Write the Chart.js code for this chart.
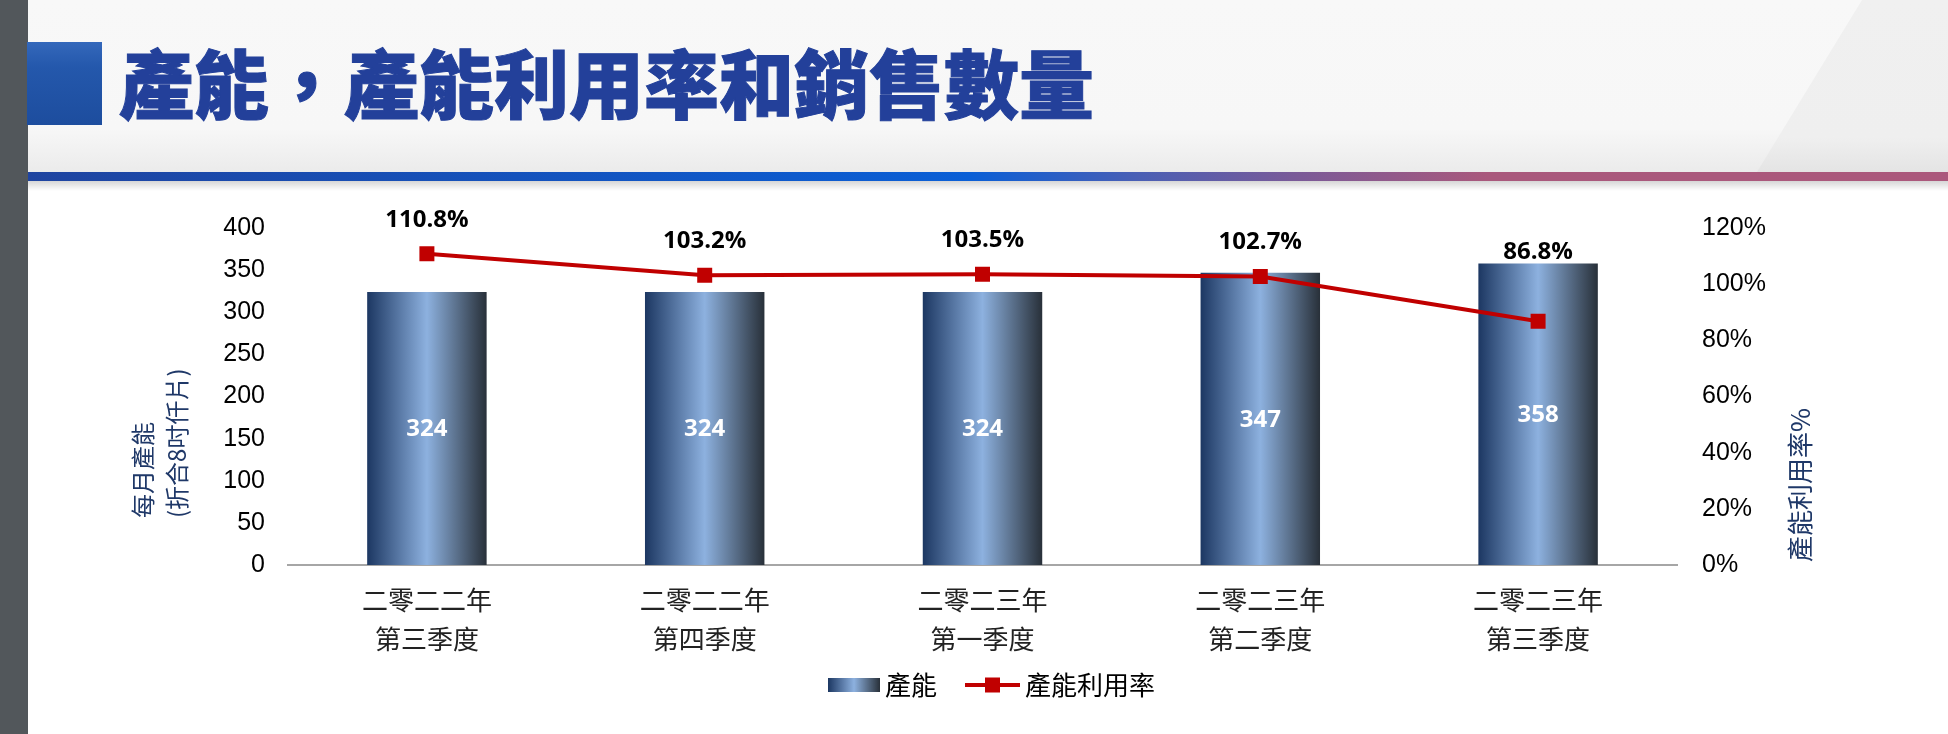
<!DOCTYPE html>
<html>
<head>
<meta charset="utf-8">
<script src="https://cdn.jsdelivr.net/npm/chart.js@4.4.0/dist/chart.umd.min.js"></script>
<style>
  html, body { margin:0; padding:0; }
  body { width:1948px; height:734px; overflow:hidden; background:#ffffff; position:relative; }
  #leftbar { position:absolute; left:0; top:0; width:28px; height:734px; background:#52575b; }
  #header { position:absolute; left:28px; top:0; width:1920px; height:172px;
    background:linear-gradient(to bottom, #f0f0f0 0%, #efefef 80%, #e4e4e4 100%); }
  #headerlight { position:absolute; left:28px; top:0; width:1920px; height:172px;
    background:linear-gradient(to bottom, #f8f8f8 0%, #f7f7f7 75%, #ebebeb 100%);
    clip-path: polygon(0 0, 1834px 0, 1729px 172px, 0 172px); }
  #accent { position:absolute; left:27px; top:42px; width:75px; height:83px;
    background:linear-gradient(to bottom, #3468bb 0%, #2458ac 30%, #1d4d9e 100%); }
  #title { position:absolute; left:119px; top:43px; margin:0; display:inline-block;
    font-family:"Noto Sans CJK TC","Noto Sans CJK SC",sans-serif; font-weight:900;
    font-size:75px; line-height:1; letter-spacing:0px; color:#23409a; white-space:nowrap;
    -webkit-text-stroke:1px #23409a; }
  #band { position:absolute; left:28px; top:172px; width:1920px; height:9px;
    background:linear-gradient(to right, #1f44a0 0%, #0a5fd6 49%, #4b5fb4 58%, #7a5a98 66%, #a9587c 76%, #ab587c 100%); }
  #shadow { position:absolute; left:28px; top:181px; width:1920px; height:10px;
    background:linear-gradient(to bottom, rgba(0,0,0,0.16), rgba(0,0,0,0)); }
  #wrap { position:absolute; left:28px; top:185px; width:1920px; height:549px; }
</style>
</head>
<body>
<div id="leftbar"></div>
<div id="header"></div>
<div id="headerlight"></div>
<div id="accent"></div>
<h1 id="title">產能，產能利用率和銷售數量</h1>
<div id="band"></div>
<div id="shadow"></div>
<div id="wrap"><canvas id="chart" width="1920" height="549"></canvas></div>
<script>
// ---- data ----
const categories = [
  ['二零二二年', '第三季度'],
  ['二零二二年', '第四季度'],
  ['二零二三年', '第一季度'],
  ['二零二三年', '第二季度'],
  ['二零二三年', '第三季度']
];
const capacity = [324, 324, 324, 347, 358];
const utilization = [110.8, 103.2, 103.5, 102.7, 86.8];
const seriesNames = ['產能', '產能利用率'];
const leftAxisTitle = ['每月產能', '(折合8吋仟片)'];
const rightAxisTitle = '產能利用率%';
const leftMax = 400, leftStep = 50;
const rightMax = 120, rightStep = 20;

// ---- styles ----
const BAR_PCT = 0.43;
function addBarStops(g) {
  g.addColorStop(0, '#1c3762');
  g.addColorStop(0.5, '#8db1df');
  g.addColorStop(1, '#283039');
  return g;
}
function barGradient(ctx, x0, x1) {
  return addBarStops(ctx.createLinearGradient(x0, 0, x1, 0));
}

// legend swatches (B = pointStyleWidth, image width = B + 16, swatch right-aligned)
const LEG_B = 63, LEG_P = 12;
function makeBarSwatch() {
  const c = document.createElement('canvas');
  const W = LEG_B + 16;
  c.width = W; c.height = 14;
  const x = c.getContext('2d');
  x.fillStyle = addBarStops(x.createLinearGradient(W - 52, 0, W, 0));
  x.fillRect(W - 52, 0, 52, 14);
  return c;
}
function makeLineSwatch() {
  const c = document.createElement('canvas');
  const W = LEG_B + 16;
  c.width = W; c.height = 16;
  const x = c.getContext('2d');
  x.strokeStyle = '#c00000'; x.lineWidth = 4;
  x.beginPath(); x.moveTo(W - 55, 8); x.lineTo(W, 8); x.stroke();
  x.fillStyle = '#c00000';
  x.fillRect(W - 27.5 - 7.5, 0.5, 15, 15);
  return c;
}
const swatches = [makeBarSwatch(), makeLineSwatch()];

const labelPlugin = {
  id: 'valueLabels',
  afterDatasetsDraw(chart) {
    const ctx = chart.ctx;
    const barMeta = chart.getDatasetMeta(0);
    const lineMeta = chart.getDatasetMeta(1);
    ctx.save();
    ctx.textAlign = 'center';
    ctx.textBaseline = 'middle';
    ctx.font = 'bold 24px "Open Sans", "Liberation Sans", sans-serif';
    ctx.fillStyle = '#ffffff';
    barMeta.data.forEach((el, i) => {
      ctx.fillText(String(capacity[i]), el.x, (el.base + el.y) / 2 + 1);
    });
    ctx.fillStyle = '#000000';
    lineMeta.data.forEach((pt, i) => {
      const barTop = barMeta.data[i].y;
      const y = Math.min(pt.y - 34, barTop - 11);
      ctx.fillText(utilization[i].toFixed(1) + '%', pt.x, y);
    });
    ctx.restore();
  },
  afterDraw(chart) {
    const ctx = chart.ctx;
    const ca = chart.chartArea;
    ctx.save();
    ctx.fillStyle = '#1f3868';
    ctx.textAlign = 'left';
    ctx.textBaseline = 'middle';
    ctx.font = '24px "Noto Sans CJK TC", "Noto Sans CJK SC", sans-serif';
    const lx = [ca.left - 145, ca.left - 111];
    leftAxisTitle.forEach((t, i) => {
      ctx.save();
      ctx.translate(lx[i], ca.bottom - 47);
      ctx.rotate(-Math.PI / 2);
      ctx.fillText(t, 0, 0);
      ctx.restore();
    });
    ctx.font = '26px "Noto Sans CJK TC", "Noto Sans CJK SC", sans-serif';
    ctx.save();
    ctx.translate(ca.right + 123, ca.bottom - 3);
    ctx.rotate(-Math.PI / 2);
    ctx.fillText(rightAxisTitle, 0, 0);
    ctx.restore();
    ctx.restore();
  }
};

Chart.defaults.font.family = '"Liberation Sans", Arial, sans-serif';
Chart.defaults.color = '#000000';

new Chart(document.getElementById('chart'), {
  data: {
    labels: categories,
    datasets: [
      {
        type: 'bar',
        label: seriesNames[0],
        data: capacity,
        yAxisID: 'y',
        order: 2,
        barPercentage: BAR_PCT,
        categoryPercentage: 1.0,
        borderWidth: 0,
        backgroundColor: (c) => {
          const ch = c.chart;
          const xs = ch.scales && ch.scales.x;
          if (!xs || !ch.chartArea || c.dataIndex === undefined) return '#4a6a9a';
          const cx = xs.getPixelForValue(c.dataIndex);
          const w = (xs.width / capacity.length) * BAR_PCT;
          return barGradient(ch.ctx, cx - w / 2, cx + w / 2);
        }
      },
      {
        type: 'line',
        label: seriesNames[1],
        data: utilization,
        yAxisID: 'y1',
        order: 1,
        borderColor: '#c00000',
        borderWidth: 4,
        tension: 0,
        fill: false,
        pointStyle: 'rect',
        pointRadius: 10.6,
        pointBackgroundColor: '#c00000',
        pointBorderColor: '#c00000',
        pointBorderWidth: 0
      }
    ]
  },
  options: {
    responsive: false,
    animation: false,
    events: [],
    layout: { padding: { top: 43, left: 0, right: 12, bottom: 26 } },
    scales: {
      x: {
        offset: true,
        grid: { display: false, drawTicks: false },
        border: { display: true, color: '#a6a6a6', width: 2 },
        ticks: {
          color: '#222222',
          padding: 15.5,
          maxRotation: 0,
          autoSkip: false,
          font: { family: '"Noto Sans CJK TC", "Noto Sans CJK SC", sans-serif', size: 26, lineHeight: 1.5 }
        },
        afterFit(s) { s.height = 95; }
      },
      y: {
        position: 'left',
        min: 0, max: leftMax,
        grid: { display: false, drawTicks: false },
        border: { display: false },
        ticks: { stepSize: leftStep, padding: 23, color: '#000000', font: { size: 25 } },
        afterFit(s) { s.width = 260; }
      },
      y1: {
        position: 'right',
        min: 0, max: rightMax,
        grid: { display: false, drawTicks: false },
        border: { display: false },
        ticks: { stepSize: rightStep, padding: 25, color: '#000000', font: { size: 25 },
          callback: (v) => v + '%' },
        afterFit(s) { s.width = 259; }
      }
    },
    plugins: {
      tooltip: { enabled: false },
      legend: {
        position: 'bottom',
        labels: {
          usePointStyle: true,
          pointStyleWidth: LEG_B,
          boxHeight: 14,
          padding: LEG_P,
          color: '#222222',
          font: { family: '"Noto Sans CJK TC", "Noto Sans CJK SC", sans-serif', size: 26 },
          generateLabels: () => seriesNames.map((n, i) => ({
            text: n,
            datasetIndex: i,
            pointStyle: swatches[i],
            fillStyle: 'rgba(0,0,0,0)',
            strokeStyle: 'rgba(0,0,0,0)',
            lineWidth: 0,
            hidden: false
          }))
        }
      }
    }
  },
  plugins: [labelPlugin]
});
</script>
</body>
</html>
